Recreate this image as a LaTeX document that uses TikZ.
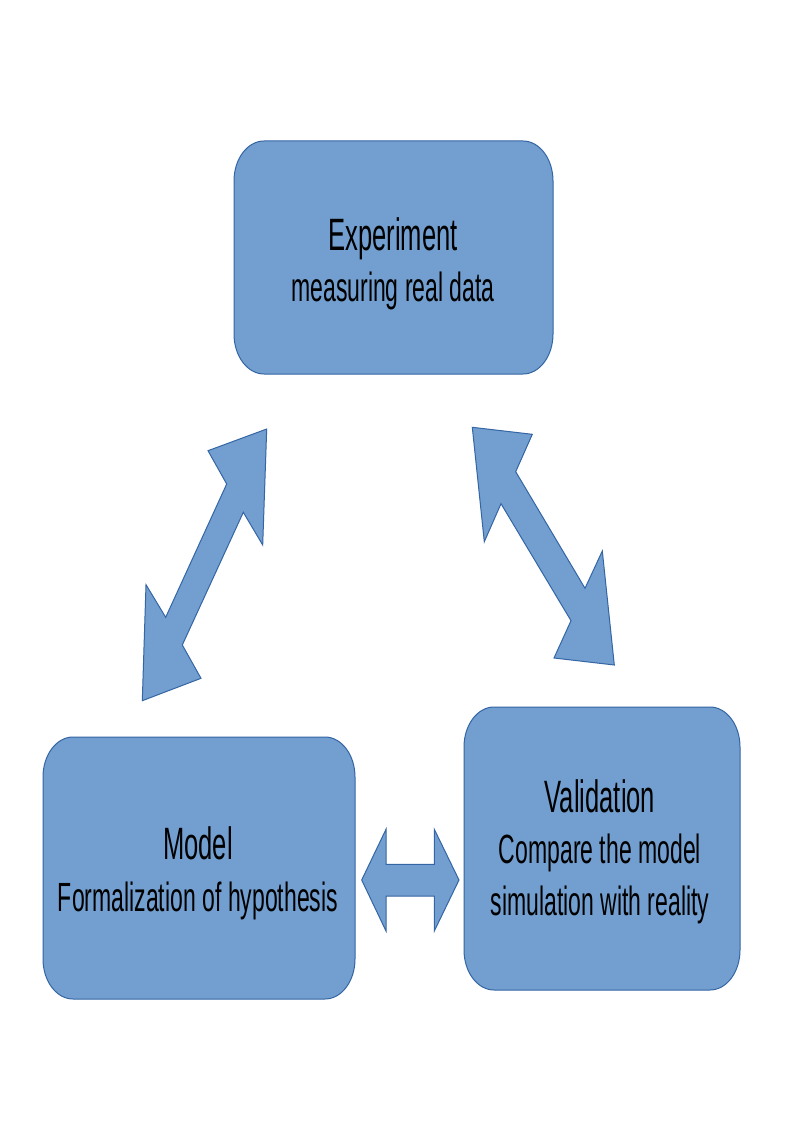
\documentclass[tikz,border=0pt]{standalone}
\usepackage{fontspec}
\setmainfont{Liberation Sans}[FakeStretch=0.564]
\definecolor{boxfill}{HTML}{729FCF}
\definecolor{boxline}{HTML}{3465A4}
\newcommand\lineA{\fontsize{34pt}{38.5pt}\selectfont}
\newcommand\lineB{\fontsize{30.6pt}{38.5pt}\selectfont}
\def\bxr{30}\def\byr{40}\def\bkk{0.5523}
\newcommand\roundbox[4]{%
 \filldraw[shapestyle] ({#1+\bxr},#2) -- ({#3-\bxr},#2)
  .. controls ({#3-\bxr+\bkk*\bxr},#2) and (#3,{#2+\byr-\bkk*\byr}) .. (#3,{#2+\byr})
  -- (#3,{#4-\byr})
  .. controls (#3,{#4-\byr+\bkk*\byr}) and ({#3-\bxr+\bkk*\bxr},#4) .. ({#3-\bxr},#4)
  -- ({#1+\bxr},#4)
  .. controls ({#1+\bxr-\bkk*\bxr},#4) and (#1,{#4-\byr+\bkk*\byr}) .. (#1,{#4-\byr})
  -- (#1,{#2+\byr})
  .. controls (#1,{#2+\byr-\bkk*\byr}) and ({#1+\bxr-\bkk*\bxr},#2) .. cycle;}
\begin{document}
\begin{tikzpicture}[x=0.75pt,y=-0.75pt,
  shapestyle/.style={fill=boxfill,draw=boxline,line width=0.75pt,line join=miter},
  label/.style={align=center,inner sep=0pt,anchor=base,font=\lineB,text=black}]
\useasboundingbox[fill=white] (0,0) rectangle (794,1123);
% boxes
\roundbox{234}{141}{553}{374}
\roundbox{43}{737}{355}{999}
\roundbox{464}{707}{740}{990}
% texts (anchor at baseline of the last line)
\node[label] (exp) at (393,301.7) {{\lineA Experiment}\\measuring real data};
\node[label] (model) at (198,911) {{\lineA Model}\\Formalization of hypothesis};
\node[label] (valid) at (600,915) {{\lineA Validation}\\Compare the model\\simulation with reality};
% left diagonal double arrow
\filldraw[shapestyle] (266.7,429) -- (208,450.7) -- (226.7,484) -- (165.7,617.3)
  -- (146,584.7) -- (142.3,700.7) -- (201,678.3) -- (182.3,645) -- (243.3,512.3)
  -- (262.7,545) -- cycle;
% right diagonal double arrow
\filldraw[shapestyle] (472.3,427.3) -- (532.3,434.3) -- (515.7,471.7) -- (585,588.3)
  -- (602.3,551) -- (614.3,665) -- (554,658) -- (571,620.7) -- (501,503.7)
  -- (484.3,541.7) -- cycle;
% horizontal double arrow
\filldraw[shapestyle] (361.7,880) -- (386,829.3) -- (386,864.3) -- (434.3,864.3)
  -- (434.3,829.3) -- (459,880) -- (434.3,931) -- (434.3,896) -- (386,896)
  -- (386,931) -- cycle;
\end{tikzpicture}
\end{document}
